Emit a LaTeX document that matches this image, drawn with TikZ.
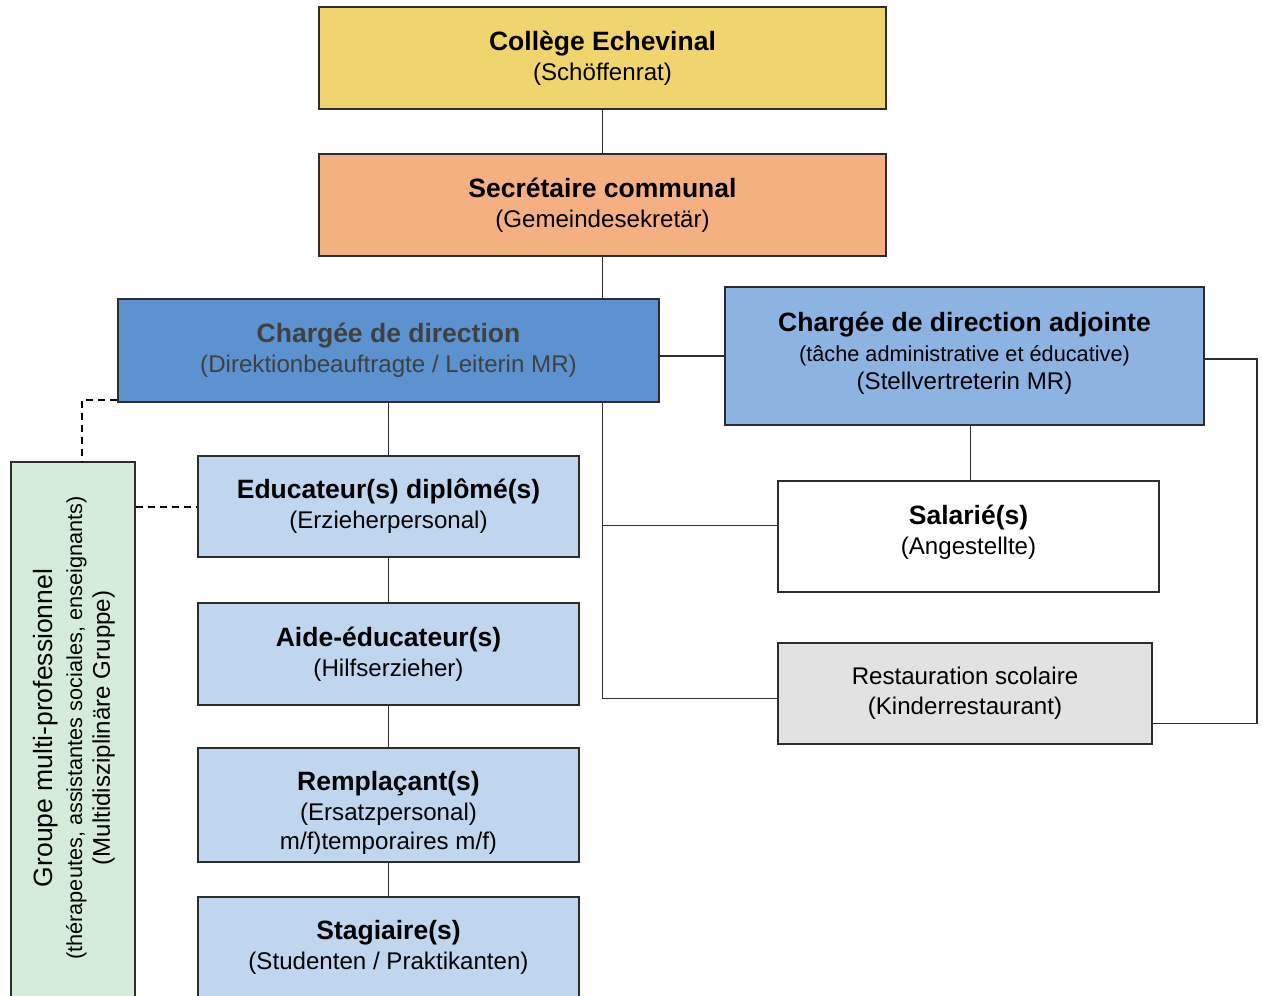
\documentclass[tikz,border=0pt]{standalone}
\usepackage{fontspec}
\setmainfont{Liberation Sans}
\definecolor{cyellow}{RGB}{240,213,110}
\definecolor{corange}{RGB}{244,176,128}
\definecolor{cblueD}{RGB}{92,146,208}
\definecolor{cblueM}{RGB}{141,179,226}
\definecolor{cblueL}{RGB}{192,213,238}
\definecolor{cgrayL}{RGB}{226,226,226}
\definecolor{cgreenL}{RGB}{214,236,218}
\definecolor{cline}{RGB}{45,45,45}
\newcommand\TB{\fontsize{26.6}{30}\selectfont\bfseries}
\newcommand\TR{\fontsize{24.2}{30}\selectfont}
\newcommand\TS{\fontsize{21.8}{30}\selectfont}
\begin{document}
\begin{tikzpicture}[x=1bp,y=-1bp,
  box/.style={draw=cline, line width=1.8bp, align=center, inner sep=0pt, font=\TR},
  txt/.style={align=center, inner sep=0pt, font=\TR},
  conn/.style={draw=cline, line width=1.8bp},
  dashline/.style={draw=black, line width=2bp, dash pattern=on 7bp off 5bp}]
\useasboundingbox (0,0) rectangle (1263,996);
\clip (0,0) rectangle (1263,996);
\fill[white] (0,0) rectangle (1263,996);
% boxes
\node[box, fill=cyellow, minimum width=567bp, minimum height=102bp] (college) at (602.5,58) {{\TB Collège Echevinal}\\(Schöffenrat)};
\node[box, fill=corange, minimum width=567bp, minimum height=102bp] (sec) at (602.5,205) {{\TB Secrétaire communal}\\(Gemeindesekretär)};
\node[box, fill=cblueD, text=black!75, minimum width=541bp, minimum height=103bp] (dir) at (388.5,350.5) {{\TB Chargée de direction}\\(Direktionbeauftragte / Leiterin MR)};
\node[box, fill=cblueM, minimum width=479bp, minimum height=138bp] (adj) at (964.5,356) {};
\node[txt] (adjtxt) at (964.5,353) {{\TB Chargée de direction adjointe}\\{\TS (tâche administrative et éducative)}\\[-2bp](Stellvertreterin MR)};
\node[box, fill=cblueL, minimum width=381bp, minimum height=101bp] (edu) at (388.5,506.5) {{\TB Educateur(s) diplômé(s)}\\(Erzieherpersonal)};
\node[box, fill=cblueL, minimum width=381bp, minimum height=102bp] (aide) at (388.5,654) {{\TB Aide-éducateur(s)}\\(Hilfserzieher)};
\node[box, fill=cblueL, minimum width=381bp, minimum height=114bp] (rempl) at (388.5,805) {};
\node[txt] (rempltxt) at (388.5,813) {{\TB Remplaçant(s)}\\(Ersatzpersonal)\\m/f)temporaires m/f)};
\node[box, fill=cblueL, minimum width=381bp, minimum height=110bp, anchor=north] (stag) at (388.5,896) {};
\node[txt] (stagtxt) at (388.5,947.5) {{\TB Stagiaire(s)}\\(Studenten / Praktikanten)};
\node[box, fill=white, minimum width=381bp, minimum height=111bp] (sal) at (968.5,536.5) {};
\node[txt] (saltxt) at (968.5,532.5) {{\TB Salarié(s)}\\(Angestellte)};
\node[box, fill=cgrayL, minimum width=374bp, minimum height=101bp] (rest) at (965,693.5) {Restauration scolaire\\(Kinderrestaurant)};
\node[box, fill=cgreenL, minimum width=124bp, minimum height=545bp, anchor=north] (grp) at (73,461) {};
\node[rotate=90, align=center, font=\TR] (grptxt) at (74,728) {{\fontsize{26.6}{30}\selectfont Groupe multi-professionnel}\\{\TS (thérapeutes, assistantes sociales, enseignants)}\\[-2bp](Multidisziplinäre Gruppe)};
% connectors
\draw[conn] (college.south) -- (sec.north);
\draw[conn] (sec.south) -- (sec.south |- dir.north);
\draw[conn] (sec.south |- dir.south) -- ([yshift=-5bp]sec.south |- rest.west) -- ([yshift=-5bp]rest.west);
\draw[conn] ([yshift=11bp]sec.south |- sal.west) -- ([yshift=11bp]sal.west);
\draw[conn] (dir.east |- adj.west) -- (adj.west);
\draw[conn] (dir.south) -- (edu.north);
\draw[conn] (edu.south) -- (aide.north);
\draw[conn] (aide.south) -- (rempl.north);
\draw[conn] (rempl.south) -- (stag.north);
\draw[conn] ([xshift=6bp]adj.south) -- ([xshift=6bp]adj.south |- sal.north);
\draw[conn] ([yshift=-3bp]adj.east) -- ++(52,0) |- ([yshift=-30bp]rest.east);
\draw[dashline] ([yshift=3bp]dir.south west) -| ([xshift=9bp]grp.north);
\draw[dashline] (grp.east |- edu.west) -- (edu.west);
\end{tikzpicture}
\end{document}
